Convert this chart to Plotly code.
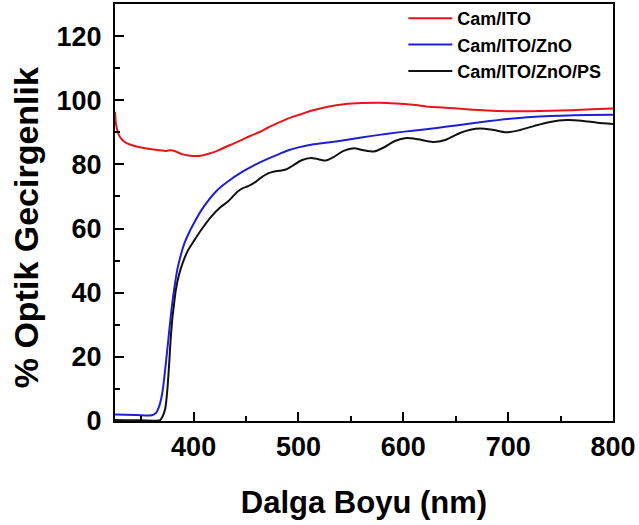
import plotly.graph_objects as go

# Optical transmittance spectra (wavelength in nm, transmittance in %)
wl_ito = [325, 326, 328.5, 332, 336, 343, 351, 360, 367, 374, 378, 383, 389, 395, 402,
          408, 415, 423, 431, 439, 447, 455, 463, 471, 479, 491, 500, 513, 528, 545,
          560, 577, 593, 609, 625, 644, 660, 680, 700, 720, 740, 760, 780, 800]
t_ito = [96.4, 92.5, 89.3, 87.6, 86.6, 85.8, 85.2, 84.7, 84.4, 84.2, 84.4, 84.0, 83.2, 82.8, 82.6,
         82.8, 83.4, 84.3, 85.5, 86.6, 87.8, 89.0, 90.1, 91.5, 92.7, 94.4, 95.4, 96.8, 98.0, 98.8,
         99.1, 99.2, 99.0, 98.6, 98.0, 97.6, 97.2, 96.8, 96.6, 96.6, 96.7, 96.9, 97.2, 97.4]

wl_zno = [325, 345, 360, 364, 367, 370, 372.5, 374.8, 377, 379, 381.4, 384.6, 388, 391, 395,
          400, 409, 422, 432, 447, 458, 469, 482, 491, 500, 513, 530, 545, 560, 577,
          593, 609, 630, 654, 675, 690, 708, 730, 750, 775, 800]
t_zno = [2.0, 1.9, 1.8, 2.5, 4.5, 8.5, 15, 22, 29, 35, 41, 47.5, 52, 55.2, 58.3,
         61.5, 66.5, 71.8, 74.5, 77.8, 79.8, 81.5, 83.3, 84.5, 85.3, 86.2, 86.9, 87.6, 88.4, 89.2,
         89.9, 90.5, 91.3, 92.3, 93.2, 93.8, 94.4, 94.9, 95.2, 95.4, 95.5]

wl_ps = [325, 350, 368, 370.5, 373, 375, 376.5, 378, 379.7, 381.5, 383, 386, 389.5, 394, 400,
         409, 417, 425.5, 433, 441.8, 447, 452, 458, 464, 471, 477, 482, 488, 494, 503,
         512, 519, 526, 533, 543, 553, 562, 572, 581, 592, 603, 614, 628, 640, 654,
         664, 673, 685, 698, 710, 725, 740, 756, 770, 785, 800]
t_ps = [0.3, 0.2, 0.3, 1.5, 4, 10, 17, 25, 32, 37, 40.8, 45.5, 49.2, 52.8, 56,
        60.4, 63.8, 66.6, 68.5, 71.5, 72.6, 73.2, 74.3, 75.8, 77.2, 77.8, 78.0, 78.4, 79.5, 81.3,
        82.0, 81.6, 81.2, 82.2, 84.2, 85.0, 84.4, 84.0, 85.2, 87.3, 88.2, 87.8, 87.0, 87.6, 89.8,
        90.8, 91.2, 90.8, 90.0, 90.6, 92.0, 93.2, 93.8, 93.6, 93.0, 92.6]

names = ["Cam/ITO", "Cam/ITO/ZnO", "Cam/ITO/ZnO/PS"]
colors = ["#e8141c", "#1f1fd2", "#111111"]
series = [(wl_ito, t_ito), (wl_zno, t_zno), (wl_ps, t_ps)]

x_ticks = [400, 500, 600, 700, 800]
y_ticks = [0, 20, 40, 60, 80, 100, 120]

FONT = "Liberation Sans, Arial, sans-serif"

fig = go.Figure()
for name, color, (wl, t) in zip(names, colors, series):
    fig.add_trace(go.Scatter(
        x=wl, y=t, mode="lines", name=name,
        line=dict(color=color, width=2, shape="spline", smoothing=0.7),
    ))

axis_common = dict(
    showline=True, linecolor="black", linewidth=2, mirror=True,
    ticks="inside", ticklen=9, tickwidth=1.5, tickcolor="black",
    showgrid=False, zeroline=False,
    tickfont=dict(family=FONT, size=27, color="black", weight="bold"),
)

fig.update_xaxes(
    range=[325, 800], tickvals=x_ticks, ticklabelstandoff=1,
    minor=dict(ticks="inside", ticklen=5, tickwidth=1.5, tickcolor="black", dtick=50, tick0=0),
    title=dict(text="Dalga Boyu (nm)", font=dict(family=FONT, size=31, color="black", weight="bold"),
               standoff=30),
    **axis_common,
)
fig.update_yaxes(
    range=[0, 130], tickvals=y_ticks, ticklabelstandoff=6,
    minor=dict(ticks="inside", ticklen=5, tickwidth=1.5, tickcolor="black", dtick=10, tick0=0),
    **axis_common,
)

fig.add_annotation(
    text="% Optik Gecirgenlik", textangle=-90, showarrow=False,
    xref="paper", yref="paper", x=-0.178, y=0.463, xanchor="center", yanchor="middle",
    font=dict(family=FONT, size=34, color="black", weight="bold"),
)

fig.update_layout(
    width=639, height=525,
    margin=dict(l=115, r=26, t=4, b=104, autoexpand=False),
    plot_bgcolor="white", paper_bgcolor="white",
    showlegend=True,
    legend=dict(
        x=0.579, y=1.0096, xanchor="left", yanchor="top",
        bgcolor="rgba(0,0,0,0)", borderwidth=0,
        font=dict(family=FONT, size=18, color="black", weight="bold"),
        itemwidth=44, tracegroupgap=0,
    ),
)

fig.write_html("out.html")
